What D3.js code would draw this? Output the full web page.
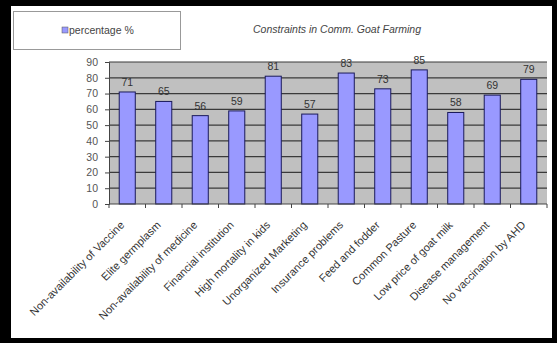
<!DOCTYPE html>
<html>
<head>
<meta charset="utf-8">
<script src="https://cdn.jsdelivr.net/npm/d3@7"></script>
<style>
  html, body { margin: 0; padding: 0; background: #000; }
  svg { display: block; font-family: "Liberation Sans", Arial, sans-serif; }
</style>
</head>
<body>
<svg id="chart" width="557" height="343"></svg>
<script>
// Constraints faced in commercial goat farming (% of respondents)
const categories = [
  "Non-availability of Vaccine",
  "Elite germplasm",
  "Non-availability of medicine",
  "Financial institution",
  "High mortality in kids",
  "Unorganized Marketing",
  "Insurance problems",
  "Feed and fodder",
  "Common Pasture",
  "Low price of goat milk",
  "Disease management",
  "No vaccination by AHD"
];
const percentages = [71, 65, 56, 59, 81, 57, 83, 73, 85, 58, 69, 79];
const yTicks = [0, 10, 20, 30, 40, 50, 60, 70, 80, 90];
const seriesName = "percentage %";
const chartTitle = "Constraints in Comm. Goat Farming";

const svg = d3.select("#chart");

// frame: black surround with white page inside
svg.append("rect").attr("x", 0).attr("y", 0).attr("width", 557).attr("height", 343).attr("fill", "#000");
svg.append("rect").attr("x", 11).attr("y", 6).attr("width", 541).attr("height", 332).attr("fill", "#fff");

const plot = { left: 109, right: 547, top: 62, bottom: 204 };

const x = d3.scaleBand().domain(categories).range([plot.left, plot.right]).paddingInner(0.56).paddingOuter(0.28);
const y = d3.scaleLinear().domain([0, 90]).range([plot.bottom, plot.top]);

// grey plot background
svg.append("rect")
  .attr("x", plot.left).attr("y", y(90))
  .attr("width", plot.right - plot.left).attr("height", y(0) - y(90))
  .attr("fill", "#c0c0c0");

// horizontal gridlines
svg.append("g").selectAll("line").data(yTicks.filter(d => d > 0)).join("line")
  .attr("x1", plot.left).attr("x2", plot.right)
  .attr("y1", d => y(d)).attr("y2", d => y(d))
  .attr("stroke", "#3a3a3a").attr("stroke-width", 1.2);

// bars
svg.append("g").selectAll("rect").data(percentages).join("rect")
  .attr("x", (d, i) => x(categories[i]))
  .attr("y", d => y(d))
  .attr("width", x.bandwidth())
  .attr("height", d => y(0) - y(d))
  .attr("fill", "#9999ff")
  .attr("stroke", "#1a1a5a")
  .attr("stroke-width", 1);

// value labels
svg.append("g").selectAll("text").data(percentages).join("text")
  .attr("x", (d, i) => x(categories[i]) + x.bandwidth() / 2)
  .attr("y", d => y(d) - 6)
  .attr("text-anchor", "middle")
  .attr("font-size", 10.5)
  .attr("fill", "#333")
  .text(d => d);

// y axis
const yAxis = svg.append("g")
  .attr("transform", `translate(${plot.left},0)`)
  .call(d3.axisLeft(y).tickValues(yTicks).tickSize(4).tickPadding(7));
yAxis.select(".domain").attr("stroke", "#444");
yAxis.selectAll(".tick line").attr("stroke", "#444");
yAxis.selectAll("text").attr("font-size", 10.5).attr("fill", "#555").attr("font-family", "Liberation Sans, Arial, sans-serif");

// x axis with category separators
const xAxis = svg.append("g")
  .attr("transform", `translate(0,${plot.bottom})`);
xAxis.append("line")
  .attr("x1", plot.left).attr("x2", plot.right)
  .attr("stroke", "#444");
xAxis.selectAll("line.sep").data(d3.range(categories.length + 1)).join("line")
  .attr("class", "sep")
  .attr("x1", i => plot.left + i * x.step())
  .attr("x2", i => plot.left + i * x.step())
  .attr("y1", 0).attr("y2", 4)
  .attr("stroke", "#444");

// rotated category labels
xAxis.selectAll("text").data(categories).join("text")
  .attr("transform", d => `translate(${x(d) + x.bandwidth() / 2 - 5},${19}) rotate(-45)`)
  .attr("text-anchor", "end")
  .attr("dy", "0.35em")
  .attr("font-size", 11)
  .attr("fill", "#333")
  .text(d => d);

// legend box
const legend = svg.append("g");
legend.append("rect")
  .attr("x", 13.5).attr("y", 11.5).attr("width", 167).attr("height", 38)
  .attr("fill", "#fff").attr("stroke", "#999").attr("stroke-width", 1);
legend.append("rect")
  .attr("x", 62).attr("y", 27).attr("width", 6).attr("height", 6)
  .attr("fill", "#9999ff").attr("stroke", "#555").attr("stroke-width", 0.5);
legend.append("text")
  .attr("x", 69).attr("y", 34)
  .attr("font-size", 10.5).attr("fill", "#444")
  .text(seriesName);

// title
svg.append("text")
  .attr("x", 337).attr("y", 33)
  .attr("text-anchor", "middle")
  .attr("font-size", 10.5).attr("font-style", "italic").attr("fill", "#444")
  .text(chartTitle);
</script>
</body>
</html>
